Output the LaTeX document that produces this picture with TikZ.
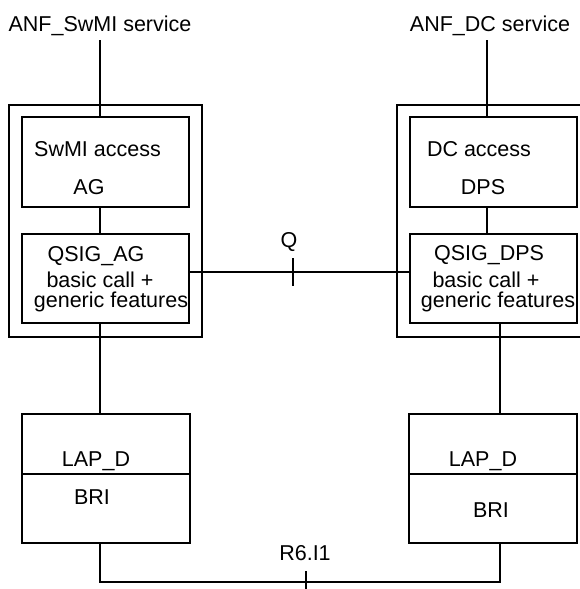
\documentclass[tikz,border=0pt]{standalone}
\usepackage{fontspec}
\setmainfont{Liberation Sans}
\usetikzlibrary{positioning,calc}

\tikzset{
	blk/.style={draw,rectangle,inner sep=0pt,outer sep=0pt},
	txt/.style={anchor=base,inner sep=0pt}
}

\begin{document}
\begin{tikzpicture}[x=1pt,y=-1pt,line width=1.2pt,font=\fontsize{21.5}{26}\selectfont]

\useasboundingbox (0,0) rectangle (580,589);

% service names on top
\node[txt] (swsrv) at (100,31.5) {ANF\_SwMI service};
\node[txt] (dcsrv) at (490,31.5) {ANF\_DC service};
\coordinate (swtop) at (100,40);
\coordinate (dctop) at (487,40);
\coordinate (dclow) at (500,323);

% outer frames
\node[blk,minimum width=193pt,minimum height=232pt] (swwrap) at (105.5,221) {};
\node[blk,minimum width=203pt,minimum height=232pt] (dcwrap) at (498.5,221) {};

% SwMI side
\node[blk,minimum width=167pt,minimum height=90pt] (swacc) at (105.5,162) {};
\node[txt] (swacct) at (97.5,156) {SwMI access};
\node[txt] (swag) at (89,194) {AG};

\node[blk,minimum width=167pt,minimum height=89pt] (swqsig) at (105.5,278.5) {};
\node[txt] (swqa) at (96,261) {QSIG\_AG};
\node[txt] (swqb) at (100,287) {basic call +};
\node[txt] (swqc) at (111,307) {generic features};

% DC side
\node[blk,minimum width=167pt,minimum height=90pt] (dcacc) at (493.5,162) {};
\node[txt] (dcacct) at (479,156) {DC access};
\node[txt] (dcdps) at (483,194) {DPS};

\node[blk,minimum width=167pt,minimum height=89pt] (dcqsig) at (493.5,278.5) {};
\node[txt] (dcqa) at (489,260) {QSIG\_DPS};
\node[txt] (dcqb) at (486,287) {basic call +};
\node[txt] (dcqc) at (498,307) {generic features};

% LAP_D / BRI
\coordinate (lapcut) at (0,474);
\node[blk,minimum width=168pt,minimum height=129pt] (swlap) at (106,478.5) {};
\draw (swlap.west |- lapcut) -- (swlap.east |- lapcut);
\node[txt] (swlapd) at (96,466) {LAP\_D};
\node[txt] (swbri) at (92,504) {BRI};

\node[blk,minimum width=168pt,minimum height=129pt] (dclap) at (493,478.5) {};
\draw (dclap.west |- lapcut) -- (dclap.east |- lapcut);
\node[txt] (dclapd) at (483,466) {LAP\_D};
\node[txt] (dcbri) at (491,517) {BRI};

% vertical links
\draw (swtop) -- (swtop |- swacc.north);
\draw (swtop |- swacc.south) -- (swtop |- swqsig.north);
\draw (swtop |- swqsig.south) -- (swtop |- swlap.north);

\draw (dctop) -- (dctop |- dcacc.north);
\draw (dctop |- dcacc.south) -- (dctop |- dcqsig.north);
\draw (dclow |- dcqsig.south) -- (dclow |- dclap.north);

% Q reference point
\coordinate (qtick) at (293,272);
\draw (swqsig.east |- qtick) -- (dcqsig.west |- qtick);
\draw (qtick) ++(0,-14) -- ++(0,28);
\node[txt] (qlbl) at (289,247) {Q};

% R6.I1 reference point
\coordinate (rtick) at (306,582);
\draw (swtop |- swlap.south) |- (rtick) -| (dclow |- dclap.south);
\draw (rtick) ++(0,-11) -- ++(0,22);
\node[txt] (rlbl) at (305,560) {R6.I1};

\end{tikzpicture}
\end{document}
